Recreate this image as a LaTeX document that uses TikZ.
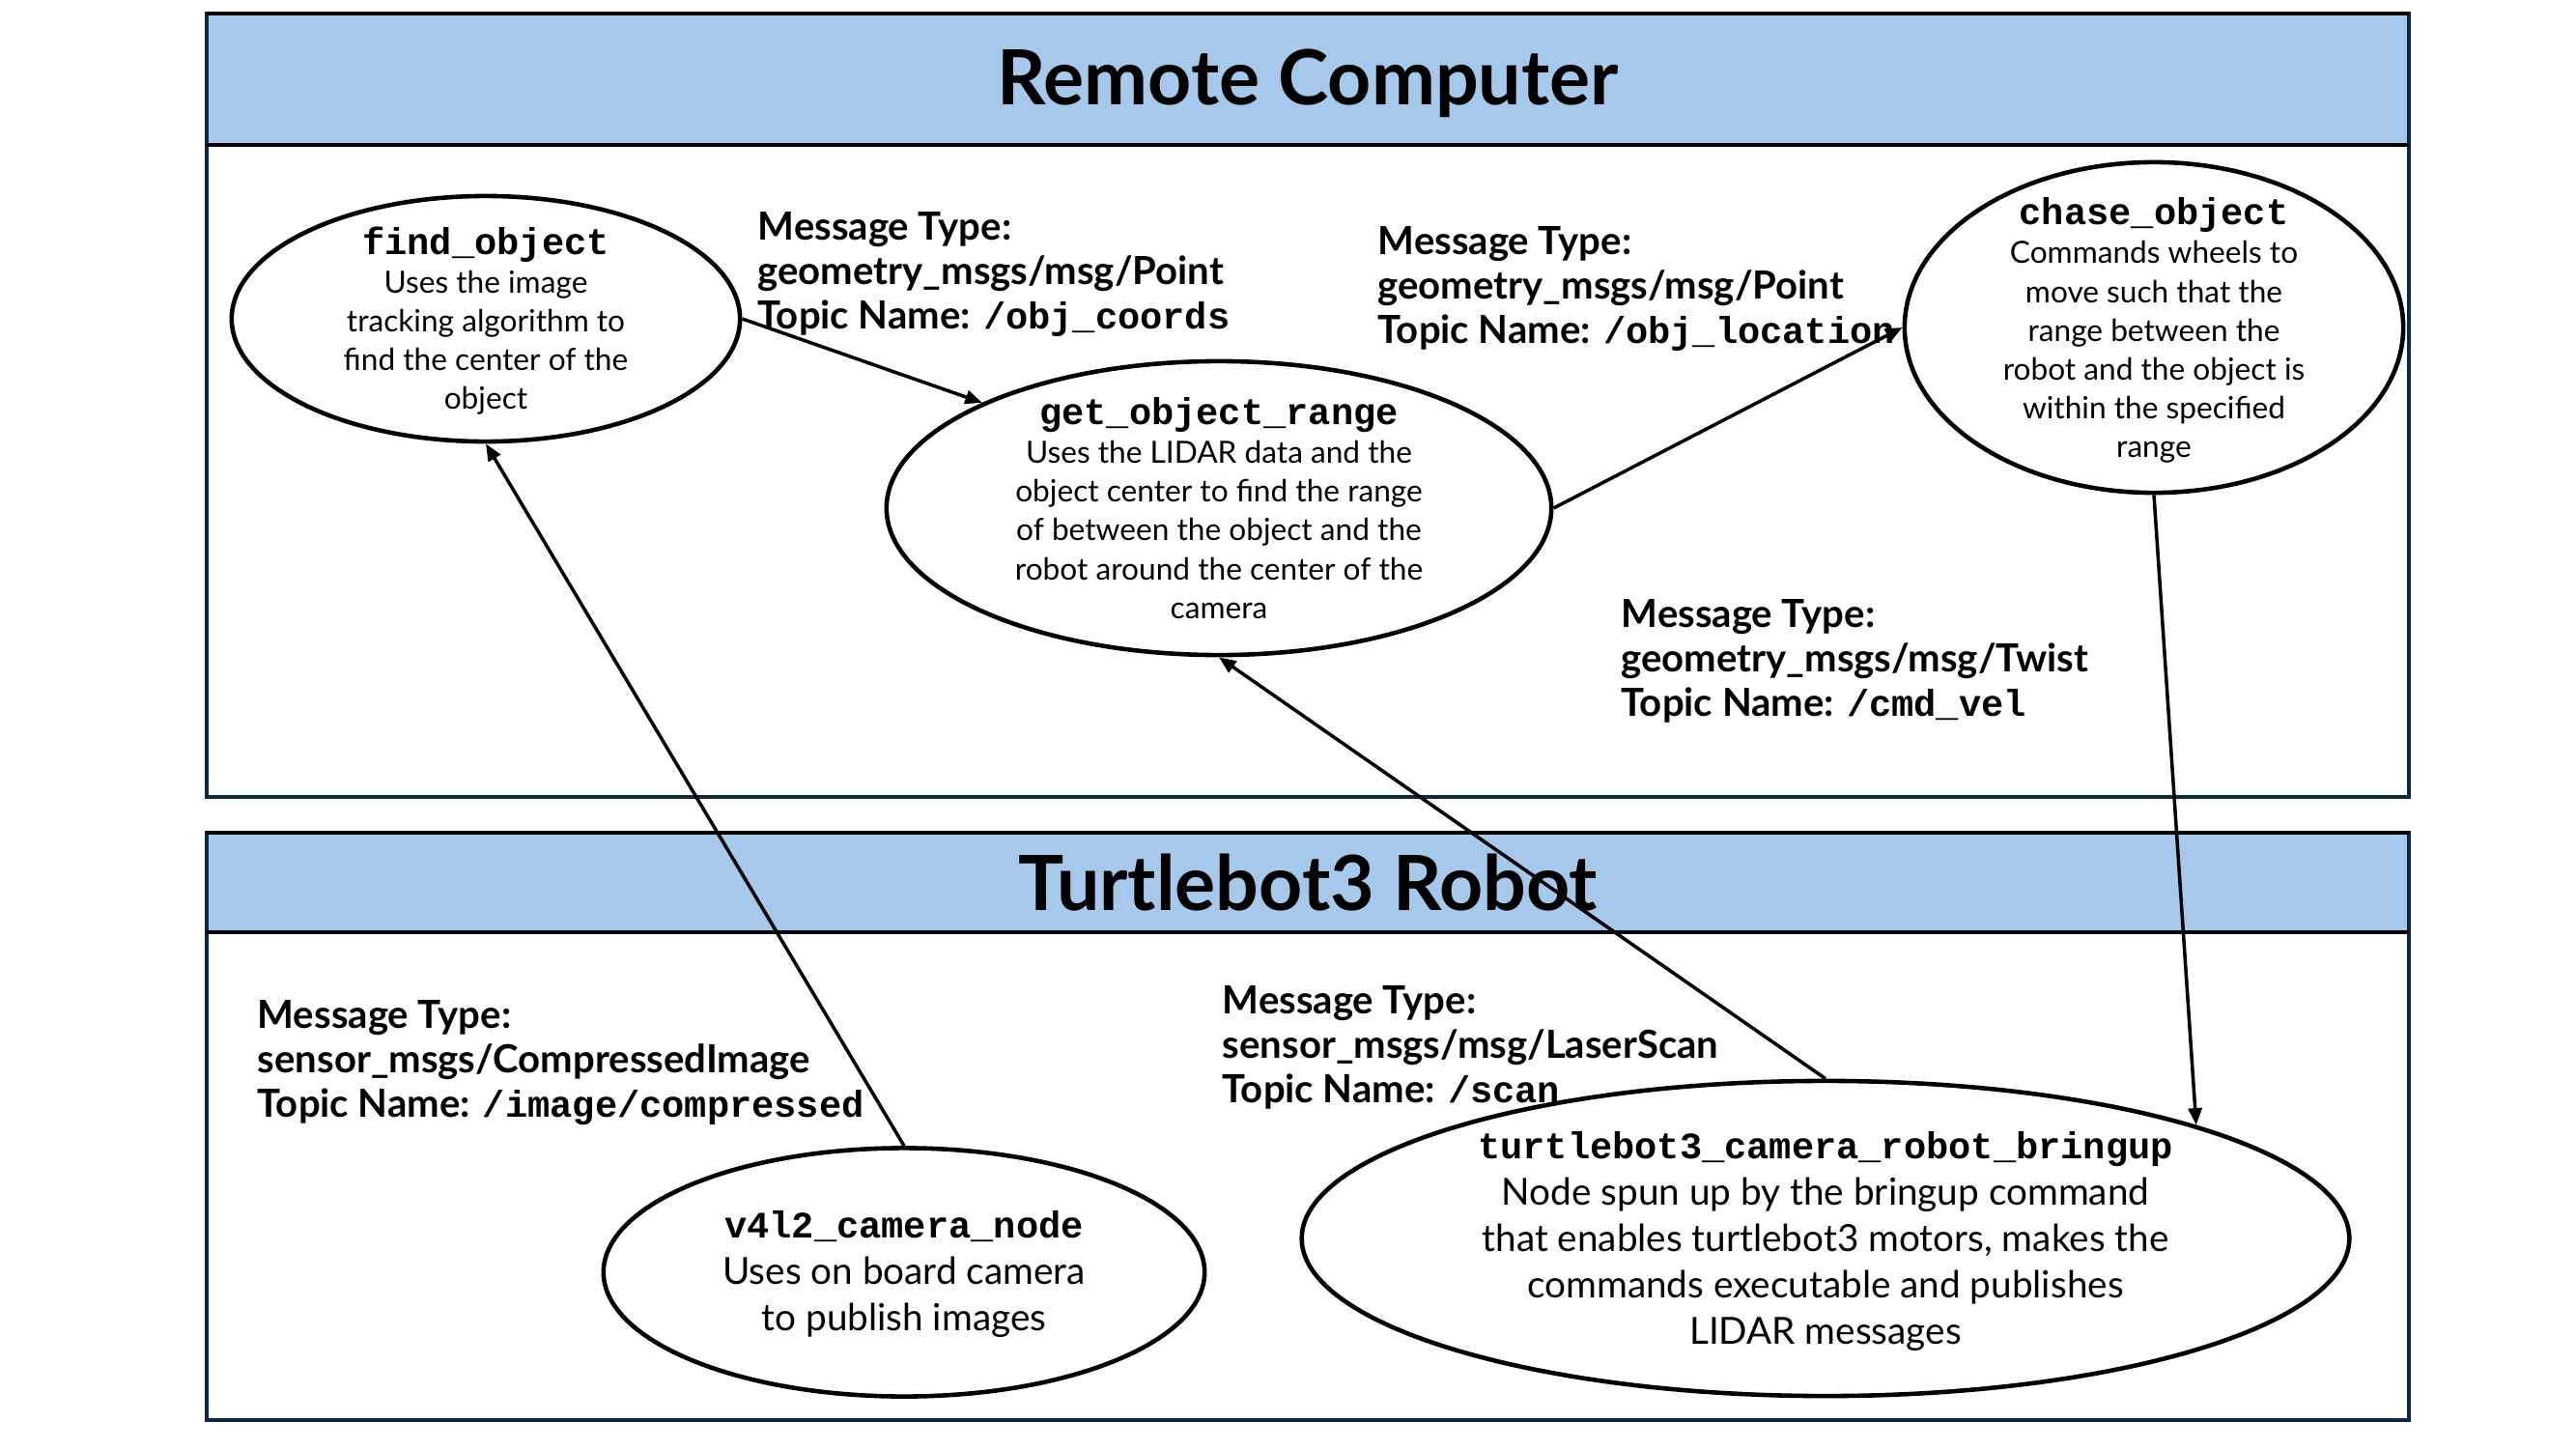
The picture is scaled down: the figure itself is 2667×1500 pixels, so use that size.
\documentclass[tikz,border=0pt]{standalone}
\usepackage{fontspec}
\setmainfont{Lato}
\setmonofont{Liberation Mono}
\usetikzlibrary{shapes.geometric,arrows.meta}
\definecolor{hdrblue}{HTML}{A6C8EA}
\definecolor{boxnavy}{HTML}{0E2841}
\begin{document}
\begin{tikzpicture}[x=0.01cm,y=-0.01cm,
  frame/.style={draw=boxnavy,line width=0.9pt},
  hdrband/.style={fill=hdrblue,draw=none},
  hdrline/.style={draw=black,line width=1.3pt},
  hdrtext/.style={font=\bfseries\fontsize{22.4}{26}\selectfont,inner sep=0pt},
  ell/.style={draw=black,line width=1.3pt,ellipse,inner sep=0pt},
  topdesc/.style={align=center,inner sep=0pt,font=\fontsize{9}{11.4}\selectfont},
  botdesc/.style={align=center,inner sep=0pt,font=\fontsize{11}{13.6}\selectfont},
  msglabel/.style={align=left,anchor=north west,inner sep=0pt,font=\bfseries\fontsize{11.4}{13.1}\selectfont},
  conn/.style={draw=black,line width=1pt,-{Triangle[length=5pt,width=4pt]}}
]
\newcommand{\ttl}[1]{{\ttfamily\bfseries\fontsize{11}{13}\selectfont #1}}
\newcommand{\tpc}[1]{{\ttfamily\bfseries\fontsize{11}{13}\selectfont #1}}
\useasboundingbox[fill=white] (0,0) rectangle (2667,1500);

% Remote Computer box
\fill[hdrband] (214,14) rectangle (2494,150);
\draw[frame] (214,14) rectangle (2494,825);
\draw[hdrline] (214,14) -- (2494,14);
\draw[hdrline] (214,150) -- (2494,150);
\node[hdrtext] (hdrremote) at (1354,86) {Remote Computer};

% Turtlebot3 Robot box
\fill[hdrband] (214,862) rectangle (2494,965);
\draw[frame] (214,862) rectangle (2494,1470);
\draw[hdrline] (214,862) -- (2494,862);
\draw[hdrline] (214,965) -- (2494,965);
\node[hdrtext] (hdrrobot) at (1354,914) {Turtlebot3 Robot};

% Ellipse nodes
\node[ell,minimum width=5.26cm,minimum height=2.54cm,
  label={[topdesc,yshift=-0.02cm]center:\ttl{find\_object}\\Uses the image\\tracking algorithm to\\find the center of the\\object}] (fo) at (503,330) {};
\node[ell,minimum width=6.88cm,minimum height=3.04cm,
  label={[topdesc]center:\ttl{get\_object\_range}\\Uses the LIDAR data and the\\object center to find the range\\of between the object and the\\robot around the center of the\\camera}] (gor) at (1262,526) {};
\node[ell,minimum width=5.16cm,minimum height=3.42cm,
  label={[topdesc,yshift=-0.03cm]center:\ttl{chase\_object}\\Commands wheels to\\move such that the\\range between the\\robot and the object is\\within the specified\\range}] (co) at (2230,339) {};
\node[ell,minimum width=6.22cm,minimum height=2.57cm,
  label={[botdesc,yshift=-0.02cm]center:\ttl{v4l2\_camera\_node}\\Uses on board camera\\to publish images}] (v4l) at (936,1317) {};
\node[ell,minimum width=10.84cm,minimum height=3.26cm,
  label={[botdesc,yshift=-0.03cm]center:\ttl{turtlebot3\_camera\_robot\_bringup}\\Node spun up by the bringup command\\that enables turtlebot3 motors, makes the\\commands executable and publishes\\LIDAR messages}] (br) at (1890,1282) {};

% Message labels
\node[msglabel] (m1) at (784,219) {Message Type:\\geometry\_msgs/msg/Point\\Topic Name: \tpc{/obj\_coords}};
\node[msglabel] (m2) at (1426,234) {Message Type:\\geometry\_msgs/msg/Point\\Topic Name: \tpc{/obj\_location}};
\node[msglabel] (m3) at (1678,620) {Message Type:\\geometry\_msgs/msg/Twist\\Topic Name: \tpc{/cmd\_vel}};
\node[msglabel] (m4) at (266,1035) {Message Type:\\sensor\_msgs/CompressedImage\\Topic Name: \tpc{/image/compressed}};
\node[msglabel] (m5) at (1265,1020) {Message Type:\\sensor\_msgs/msg/LaserScan\\Topic Name: \tpc{/scan}};

% Connectors
\draw[conn] (fo.east) -- (gor.156);
\draw[conn] (gor.east) -- (co.west);
\draw[conn] (co.south) -- (br.17);
\draw[conn] (br.north) -- (gor.south);
\draw[conn] (v4l.north) -- (fo.south);
\end{tikzpicture}
\end{document}
